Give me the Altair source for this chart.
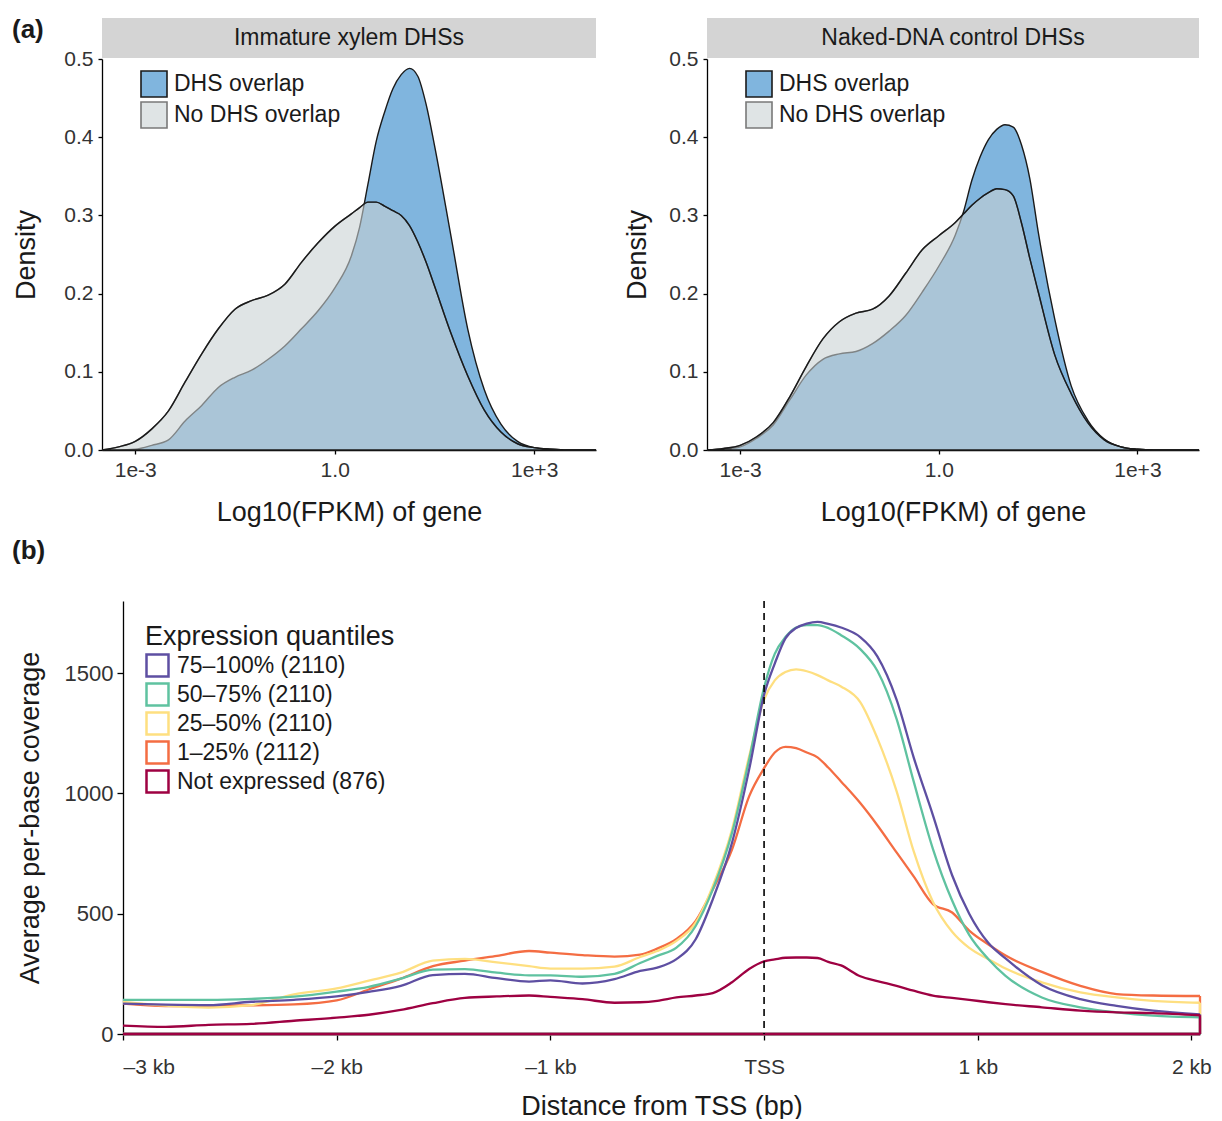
import altair as alt
import pandas as pd

FONT = "Liberation Sans"
INK = "#1a1a1a"

# ---------------- panel (a): density of log10(FPKM) ----------------
log_fpkm = [-3.5, -3.25, -3.0, -2.75, -2.5, -2.25, -2.0, -1.75, -1.5, -1.25,
            -1.0, -0.75, -0.5, -0.25, 0.0, 0.25, 0.375, 0.5, 0.625, 0.75,
            0.875, 1.0, 1.125, 1.25, 1.375, 1.5, 1.75, 2.0, 2.25, 2.5,
            2.75, 3.0, 3.25, 3.5, 3.93]
xylem_dhs = [0, 0, 0.001, 0.006, 0.013, 0.037, 0.057, 0.080, 0.093, 0.102,
             0.116, 0.133, 0.155, 0.178, 0.207, 0.248, 0.285, 0.340, 0.395, 0.432,
             0.462, 0.480, 0.488, 0.478, 0.442, 0.390, 0.273, 0.155, 0.077, 0.033,
             0.011, 0.003, 0.001, 0, 0]
xylem_nodhs = [0, 0.004, 0.011, 0.027, 0.050, 0.087, 0.123, 0.155, 0.180, 0.191,
               0.198, 0.212, 0.240, 0.265, 0.286, 0.302, 0.310, 0.317, 0.317, 0.312,
               0.306, 0.300, 0.287, 0.266, 0.240, 0.210, 0.149, 0.095, 0.051, 0.023,
               0.008, 0.003, 0.001, 0, 0]
naked_dhs = [0, 0.001, 0.004, 0.015, 0.032, 0.064, 0.096, 0.116, 0.123, 0.126,
             0.136, 0.152, 0.172, 0.202, 0.235, 0.275, 0.305, 0.345, 0.375, 0.397,
             0.410, 0.416, 0.413, 0.390, 0.347, 0.280, 0.168, 0.082, 0.038, 0.014,
             0.004, 0.001, 0, 0, 0]
naked_nodhs = [0, 0.002, 0.006, 0.017, 0.035, 0.068, 0.107, 0.142, 0.164, 0.175,
               0.180, 0.197, 0.226, 0.256, 0.274, 0.291, 0.302, 0.313, 0.322, 0.329,
               0.334, 0.333, 0.325, 0.290, 0.245, 0.203, 0.122, 0.072, 0.035, 0.013,
               0.004, 0.001, 0, 0, 0]

groups = ["DHS overlap", "No DHS overlap"]
group_fills = ["#80b5de", "#c9d1d3"]
group_opacity = [1.0, 0.58]
panel_titles = ["Immature xylem DHSs", "Naked-DNA control DHSs"]
density_ticks = [0.0, 0.1, 0.2, 0.3, 0.4, 0.5]
fpkm_tick_values = [-3, 0, 3]
fpkm_tick_labels = ["1e-3", "1.0", "1e+3"]

# ---------------- panel (b): coverage around TSS ----------------
tss_pos = [-3000, -2800, -2600, -2400, -2200, -2000, -1850, -1700, -1550, -1400,
           -1250, -1100, -1000, -850, -700, -580, -500, -410, -320, -240,
           -150, -70, 0, 50, 100, 150, 200, 250, 300, 360,
           450, 530, 620, 700, 790, 880, 960, 1050, 1130, 1300,
           1480, 1650, 1820, 2040]
cov_75_100 = [126, 122, 120, 134, 142, 156, 175, 200, 245, 250,
              232, 218, 223, 210, 228, 262, 276, 311, 394, 560,
              795, 1099, 1410, 1540, 1645, 1688, 1706, 1713, 1705, 1690,
              1650, 1570, 1390, 1150, 910, 660, 500, 378, 314, 203,
              145, 117, 97, 82]
cov_50_75 = [142, 142, 142, 146, 155, 176, 196, 230, 268, 270,
             255, 244, 244, 238, 250, 295, 325, 359, 449, 601,
             836, 1140, 1440, 1580, 1650, 1690, 1700, 1700, 1688, 1658,
             1600, 1510, 1310, 1050, 770, 555, 412, 311, 242, 152,
             111, 90, 76, 69]
cov_25_50 = [133, 118, 110, 120, 165, 190, 222, 255, 305, 312,
             298, 282, 272, 272, 280, 320, 345, 387, 463, 615,
             850, 1154, 1390, 1470, 1505, 1516, 1508, 1492, 1470, 1445,
             1380, 1230, 1010, 760, 550, 425, 358, 311, 272, 215,
             173, 152, 138, 130]
cov_1_25 = [126, 116, 118, 119, 123, 140, 185, 230, 282, 305,
            325, 345, 338, 328, 322, 330, 355, 395, 470, 601,
            767, 988, 1105, 1170, 1194, 1188, 1170, 1150, 1108, 1050,
            960, 868, 755, 655, 540, 505, 430, 372, 326, 258,
            200, 166, 160, 158]
cov_not_expr = [35, 30, 38, 42, 55, 68, 80, 100, 128, 150,
                156, 160, 154, 145, 130, 132, 138, 152, 160, 170,
                215, 270, 302, 310, 317, 318, 318, 316, 300, 285,
                240, 220, 200, 180, 160, 150, 142, 132, 124, 111,
                97, 90, 87, 78]

quantile_names = ["75–100% (2110)", "50–75% (2110)", "25–50% (2110)",
                  "1–25% (2112)", "Not expressed (876)"]
quantile_values = [cov_75_100, cov_50_75, cov_25_50, cov_1_25, cov_not_expr]
quantile_colors = ["#5e4fa2", "#5fc2a0", "#fedf80", "#f46d43", "#9e0142"]
draw_order = [3, 2, 1, 0, 4]
tss_tick_values = [-3000, -2000, -1000, 0, 1000, 2000]
tss_tick_labels = ["–3 kb", "–2 kb", "–1 kb", "TSS", "1 kb", "2 kb"]
coverage_ticks = [0, 500, 1000, 1500]
tss_marker = [0]

# layout (pixels)
TOP_W_LEFT, TOP_W_RIGHT, TOP_H = 494, 492, 391
BOT_INSET, BOT_W, BOT_H = 21, 1098, 433


def label_expr(values, labels):
    expr = "''"
    for v, lab in reversed(list(zip(values, labels))):
        expr = f"datum.value == {v} ? '{lab}' : {expr}"
    return expr


def density_panel(title, dhs, nodhs, width, title_pad, tag=None):
    rows = []
    for g, vals in zip(groups, [dhs, nodhs]):
        for xv, dv in zip(log_fpkm, vals):
            rows.append({"logfpkm": xv, "density": dv, "group": g})
    df = pd.DataFrame(rows)
    xenc = alt.X("logfpkm:Q",
                 scale=alt.Scale(domain=[-3.5, 3.93], nice=False, zero=False),
                 axis=alt.Axis(values=fpkm_tick_values,
                               labelExpr=label_expr(fpkm_tick_values, fpkm_tick_labels),
                               title="Log10(FPKM) of gene", tickSize=4,
                               labelPadding=5, titlePadding=19, labelFontSize=21))
    yenc = alt.Y("density:Q", stack=None,
                 scale=alt.Scale(domain=[0, 0.5], nice=False),
                 axis=alt.Axis(values=density_ticks, format=".1f", title="Density",
                               tickSize=4, labelPadding=5, titlePadding=title_pad,
                               labelFontSize=21))
    leg = alt.Legend(title=None, orient="none", legendX=38, legendY=11,
                     symbolType="square", symbolSize=676,
                     symbolStrokeWidth=1.6, labelFontSize=23, labelOffset=6,
                     rowPadding=-7, labelColor=INK, labelLimit=400)
    color = alt.Color("group:N", scale=alt.Scale(domain=groups, range=group_fills), legend=leg)
    opac = alt.Opacity("group:N", scale=alt.Scale(domain=groups, range=group_opacity), legend=leg)
    base = alt.Chart(df)
    dhs_area = base.transform_filter(alt.datum.group == groups[0]).mark_area(
        interpolate="monotone", stroke=INK, strokeWidth=1.4).encode(xenc, yenc, color, opac)
    nodhs_area = base.transform_filter(alt.datum.group == groups[1]).mark_area(
        interpolate="monotone", stroke=INK, strokeWidth=1.4).encode(xenc, yenc, color, opac)
    nodhs_line = base.transform_filter(alt.datum.group == groups[1]).mark_line(
        interpolate="monotone", color=INK, strokeWidth=1.4).encode(xenc, yenc)
    strip_df = pd.DataFrame({"label": [title]})
    strip = alt.Chart(strip_df).mark_rect(color="#d4d4d4").encode(
        x=alt.value(0), x2=alt.value(width), y=alt.value(-41), y2=alt.value(-1))
    strip_text = alt.Chart(strip_df).mark_text(font=FONT, fontSize=23, color=INK).encode(
        x=alt.value(width / 2), y=alt.value(-21), text="label:N")
    layers = [strip, strip_text, dhs_area, nodhs_area, nodhs_line]
    if tag:
        tag_chart = alt.Chart(pd.DataFrame({"tag": [tag]})).mark_text(
            font=FONT, fontSize=26, fontWeight="bold", align="left",
            baseline="middle", color=INK).encode(
            x=alt.value(-90), y=alt.value(-29), text="tag:N")
        layers.append(tag_chart)
    return alt.layer(*layers).properties(width=width, height=TOP_H)


left = density_panel(panel_titles[0], xylem_dhs, xylem_nodhs, TOP_W_LEFT, 23, "(a)")
right = density_panel(panel_titles[1], naked_dhs, naked_nodhs, TOP_W_RIGHT, 17)
top = alt.hconcat(left, right, spacing=24).resolve_scale(
    color="independent", opacity="independent").resolve_legend(
    color="independent", opacity="independent")

# bottom panel
rows = []
for name, vals in zip(quantile_names, quantile_values):
    for i, (p, v) in enumerate(zip(tss_pos, vals)):
        rows.append({"pos": p, "cov": v, "quantile": name, "idx": i})
cov_df = pd.DataFrame(rows)
ends_df = pd.DataFrame({
    "quantile": quantile_names,
    "start": [tss_pos[0]] * len(quantile_names),
    "end": [tss_pos[-1]] * len(quantile_names),
    "last": [vals[-1] for vals in quantile_values],
    "zero": [0] * len(quantile_names),
})

xscale = alt.Scale(domain=[tss_pos[0], tss_pos[-1]], range=[BOT_INSET, BOT_W],
                   nice=False, zero=False)
bx = alt.X("pos:Q", scale=xscale,
           axis=alt.Axis(values=tss_tick_values,
                         labelExpr=label_expr(tss_tick_values, tss_tick_labels),
                         title="Distance from TSS (bp)", tickSize=6, labelPadding=16,
                         titlePadding=16, labelFontSize=21))
by = alt.Y("cov:Q", scale=alt.Scale(domain=[0, 1800], nice=False),
           axis=alt.Axis(values=coverage_ticks, format="d", title="Average per-base coverage",
                         tickSize=6, labelPadding=4, titlePadding=20, labelFontSize=22,
                         offset=-BOT_INSET))
bcolor = alt.Color("quantile:N",
                   scale=alt.Scale(domain=quantile_names, range=quantile_colors),
                   legend=alt.Legend(title="Expression quantiles", orient="none",
                                     legendX=43, legendY=23, symbolType="square",
                                     symbolSize=484, symbolStrokeWidth=2.5,
                                     symbolFillColor="white", labelFontSize=23,
                                     titleFontSize=27, titlePadding=2, rowPadding=-6,
                                     labelOffset=7, labelColor=INK, titleColor=INK,
                                     labelLimit=400, titleLimit=400))
line_layers = []
for k in draw_order:
    nm = quantile_names[k]
    line_layers.append(
        alt.Chart(cov_df).transform_filter(alt.datum.quantile == nm).mark_line(
            strokeWidth=2.3, interpolate="monotone").encode(bx, by, bcolor))
    end_src = alt.Chart(ends_df).transform_filter(alt.datum.quantile == nm)
    line_layers.append(end_src.mark_rule(strokeWidth=2.3).encode(
        x=alt.X("end:Q", scale=xscale, title="Distance from TSS (bp)"),
        y=alt.Y("zero:Q", title="Average per-base coverage"), y2="last:Q",
        color=bcolor))
    line_layers.append(end_src.mark_rule(strokeWidth=2.6).encode(
        x=alt.X("start:Q", scale=xscale, title="Distance from TSS (bp)"), x2="end:Q",
        y=alt.Y("zero:Q", title="Average per-base coverage"),
        color=bcolor))
tss_rule = alt.Chart(pd.DataFrame({"pos": tss_marker})).mark_rule(
    color="black", strokeDash=[7, 5], strokeWidth=1.6).encode(
    x=alt.X("pos:Q", scale=xscale, title="Distance from TSS (bp)"))
tag_b = alt.Chart(pd.DataFrame({"tag": ["(b)"]})).mark_text(
    font=FONT, fontSize=26, fontWeight="bold", align="left", baseline="middle",
    color=INK).encode(x=alt.value(-90), y=alt.value(-50), text="tag:N")
bottom = alt.layer(*line_layers, tss_rule, tag_b).properties(width=BOT_W, height=BOT_H)

chart = alt.concat(top, bottom, columns=1, spacing=13).resolve_scale(
    color="independent", opacity="independent").resolve_legend(
    color="independent", opacity="independent").properties(
    padding={"left": 4, "top": 9, "right": 0, "bottom": 0}
).configure(font=FONT).configure_view(stroke=None).configure_axis(
    grid=False, domainColor="black", domainWidth=1.3, tickColor="black", tickWidth=1.3,
    labelFont=FONT, titleFont=FONT, labelColor="#333333", titleColor=INK,
    labelFontSize=21, titleFontSize=27, titleFontWeight="normal"
).configure_legend(labelFont=FONT, titleFont=FONT, titleFontWeight="normal")

chart.save("out.html", embed_options={"renderer": "svg", "actions": False})
